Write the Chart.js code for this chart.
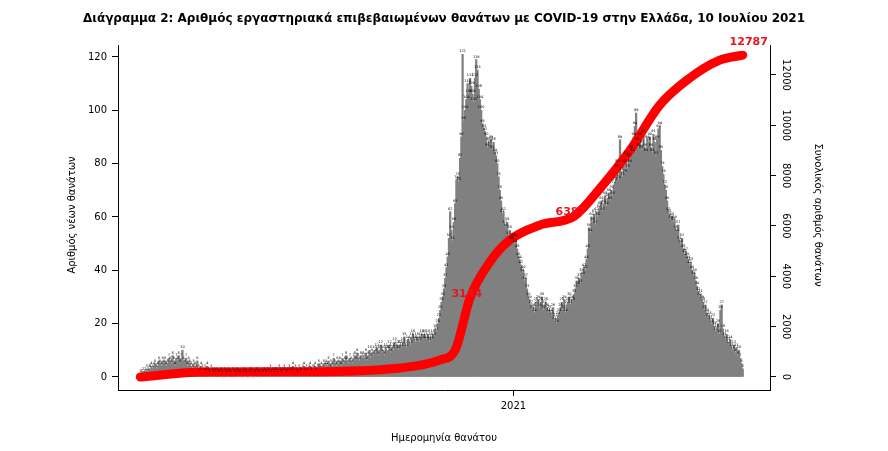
<!DOCTYPE html>
<html>
<head>
<meta charset="utf-8">
<script src="https://cdn.jsdelivr.net/npm/chart.js@4"></script>
<style>
  body { margin: 0; background: #fff; }
  #wrap { width: 888px; height: 451px; position: relative; }
</style>
</head>
<body>
<div id="wrap"><canvas id="grafico" width="888" height="451"></canvas></div>
<script>
// Νέοι θάνατοι ανά ημέρα (ημέρα 0 ≈ αρχές Μαρτίου 2020)
const thanatoi = [
  1,1,2,1,2,3,2,3,3,4, 3,4,5,3,4,6,5,4,6,5, 6,4,5,7,6,5,8,6,4,7, 6,8,5,7,10,6,5,7,4,6,
  5,4,3,5,4,3,6,3,2,4, 3,2,3,2,4,2,1,3,2,1, 2,1,2,1,1,2,1,0,2,1, 1,2,1,1,0,2,1,1,2,1,
  1,1,0,1,2,1,1,0,1,2, 1,0,1,1,2,1,1,0,1,1, 2,1,1,2,1,3,1,2,1,2, 2,1,3,2,1,2,3,2,1,2,
  3,2,2,4,2,3,2,1,3,2, 2,3,4,2,3,2,3,4,2,3, 3,4,2,3,5,3,4,3,5,4, 5,4,6,3,5,4,7,5,4,6,
  5,6,4,7,5,6,8,6,5,7, 6,5,7,8,6,9,7,6,8,7, 8,7,9,6,8,10,7,9,8,10, 9,11,8,10,12,9,10,8,11,10,
  10,12,9,11,10,13,11,12,10,12, 12,11,13,15,12,11,14,13,12,15, 16,14,13,15,14,13,15,16,14,16,
  15,14,16,13,15,14,16,15,18,17, 20,22,25,28,30,33,37,41,45,52, 62,55,51,58,65,74,75,73,82,90,
  121,96,100,104,110,106,112,109,106,103, 112,119,115,108,104,100,95,93,92,90,
  86,88,87,89,85,88,84,83,80,75, 70,66,61,62,57,56,58,53,55,51, 51,52,50,52,48,45,44,42,39,40,
  36,37,33,30,29,27,25,26,24,28, 27,29,26,28,30,25,27,28,26,24, 25,24,23,26,21,22,20,23,24,26,
  28,25,29,24,27,28,30,27,29,28, 31,33,36,34,37,35,39,38,41,40, 44,48,56,54,60,58,61,57,62,60,
  63,64,66,62,65,68,64,67,69,66, 70,68,72,73,78,80,74,89,77,75, 80,76,83,78,82,80,85,84,90,94,
  99,88,86,90,85,87,91,86,84,89, 88,90,86,84,91,88,83,89,93,94, 85,79,76,72,70,66,62,61,59,60,
  58,59,55,54,57,51,50,52,48,46, 47,45,44,42,43,40,38,39,36,34, 32,30,31,29,28,25,27,24,22,23,
  21,20,22,19,17,18,20,16,25,27, 18,15,14,16,13,12,14,11,10,12, 9,11,8,10,7,5,3
];

// Συνολικός αριθμός θανάτων (σημεία καμπύλης)
const sunolikaMeres  = [0, 50, 130, 210, 242, 254, 266, 282, 298, 322, 350, 371, 395, 419, 443, 467, 486];
const sunolikaTimes  = [0, 200, 210, 360, 680, 1070, 3144, 4570, 5440, 6030, 6387, 7500, 9000, 10800, 11870, 12580, 12787];
const etiketesSunolo = { 266: "3144", 350: "6387", 486: "12787" };

const aristeroTicks = [0, 20, 40, 60, 80, 100, 120];
const dexioTicks    = [0, 2000, 4000, 6000, 8000, 10000, 12000];
const hmeraEtous2021 = 301;

const font = "'DejaVu Sans', Verdana, sans-serif";

const keimena = {
  id: "keimena",
  afterDatasetsDraw(chart) {
    const ctx = chart.ctx;
    const x = chart.scales.x, y = chart.scales.y, y2 = chart.scales.y2;
    ctx.save();
    // μικρές ετικέτες πάνω από τις μπάρες
    ctx.fillStyle = "#000";
    ctx.font = "3.5px " + font;
    ctx.textAlign = "center";
    thanatoi.forEach((v, i) => {
      if (v > 0) ctx.fillText(String(v), x.getPixelForValue(i), y.getPixelForValue(v) - 2);
    });
    // ετικέτες συνόλου
    ctx.fillStyle = "#e8141c";
    ctx.font = "bold 11px " + font;
    sunolikaMeres.forEach((d, i) => {
      const lab = etiketesSunolo[d];
      if (!lab) return;
      const px = x.getPixelForValue(d), py = y2.getPixelForValue(sunolikaTimes[i]);
      ctx.textAlign = d === 486 ? "center" : "right";
      ctx.fillText(lab, d === 486 ? px + 6 : px + 12, d === 486 ? py - 10 : py - 1);
    });
    ctx.restore();
  },
  afterDraw(chart) {
    const ctx = chart.ctx;
    const y2 = chart.scales.y2;
    ctx.save();
    ctx.fillStyle = "#000";
    ctx.font = "bold 12px " + font;
    ctx.textAlign = "center";
    ctx.fillText("Διάγραμμα 2: Αριθμός εργαστηριακά επιβεβαιωμένων θανάτων με COVID-19 στην Ελλάδα, 10 Ιουλίου 2021", 444, 22);
    ctx.font = "10px " + font;
    ctx.fillText("Ημερομηνία θανάτου", 444, 441);
    ctx.save();
    ctx.translate(75, 215);
    ctx.rotate(-Math.PI / 2);
    ctx.fillText("Αριθμός νέων θανάτων", 0, 0);
    ctx.restore();
    ctx.save();
    ctx.translate(815, 215);
    ctx.rotate(Math.PI / 2);
    ctx.fillText("Συνολικός αριθμός θανάτων", 0, 0);
    ctx.restore();
    dexioTicks.forEach(t => {
      ctx.save();
      ctx.translate(783, y2.getPixelForValue(t));
      ctx.rotate(Math.PI / 2);
      ctx.textAlign = "center";
      ctx.fillText(String(t), 0, 0);
      ctx.restore();
    });
    ctx.restore();
  }
};

new Chart(document.getElementById("grafico"), {
  data: {
    datasets: [
      {
        type: "line",
        data: sunolikaMeres.map((d, i) => ({ x: d, y: sunolikaTimes[i] })),
        yAxisID: "y2",
        borderColor: "#ff0000",
        borderWidth: 9,
        borderCapStyle: "round",
        pointRadius: 0,
        tension: 0.4,
        cubicInterpolationMode: "monotone",
        order: 0
      },
      {
        type: "bar",
        data: thanatoi.map((v, i) => ({ x: i, y: v })),
        yAxisID: "y",
        backgroundColor: "#808080",
        barThickness: 1.6,
        order: 1
      }
    ]
  },
  plugins: [keimena],
  options: {
    responsive: false,
    animation: false,
    layout: { padding: { top: 45, left: 0, right: 0, bottom: 0 } },
    plugins: { legend: { display: false }, tooltip: { enabled: false } },
    scales: {
      x: {
        type: "linear",
        offset: false,
        min: -18, max: 508,
        afterBuildTicks: s => { s.ticks = [{ value: hmeraEtous2021 }]; },
        afterFit: s => { s.height = 61; },
        ticks: { callback: () => "2021", color: "#000", font: { family: font, size: 10 }, padding: 4 },
        grid: { display: true, offset: false, drawOnChartArea: false, tickLength: 6, color: "#000" },
        border: { color: "#000" }
      },
      y: {
        position: "left",
        min: -4.9, max: 124.5,
        afterBuildTicks: s => { s.ticks = aristeroTicks.map(v => ({ value: v })); },
        afterFit: s => { s.width = 118; },
        ticks: { color: "#000", font: { family: font, size: 10 }, padding: 5 },
        grid: { drawOnChartArea: false, tickLength: 6, color: "#000" },
        border: { color: "#000" }
      },
      y2: {
        position: "right",
        min: -517, max: 13190,
        afterBuildTicks: s => { s.ticks = dexioTicks.map(v => ({ value: v })); },
        afterFit: s => { s.width = 118; },
        ticks: { display: false },
        grid: { drawOnChartArea: false, tickLength: 6, color: "#000" },
        border: { color: "#000" }
      }
    }
  }
});
</script>
</body>
</html>
